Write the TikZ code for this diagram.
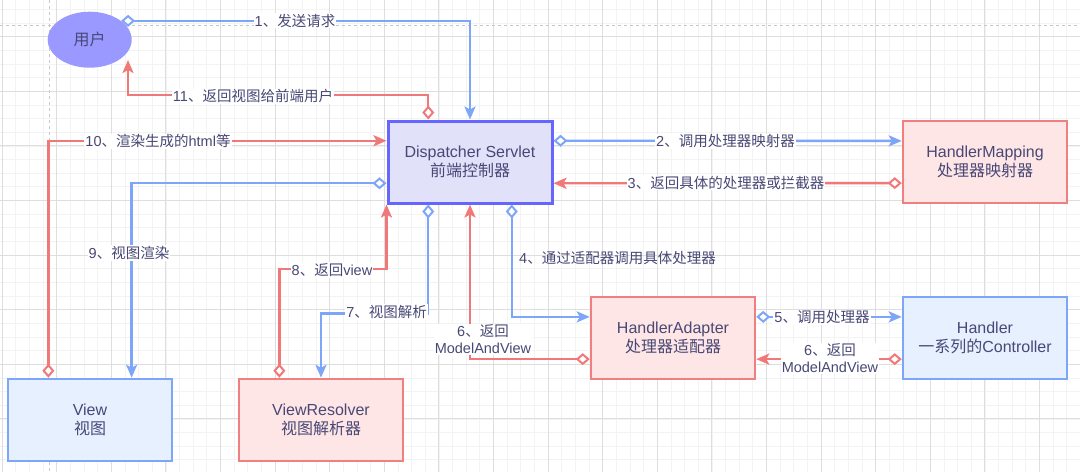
\documentclass[tikz,border=0pt]{standalone}
\usepackage{fontspec}
\setmainfont{Liberation Sans}
\newfontfamily\cjk{Noto Sans CJK SC}
\usetikzlibrary{arrows.meta,shapes.geometric,calc}
\newcommand\zh[1]{{\cjk #1}}
\definecolor{bl}{RGB}{126,166,248}
\definecolor{rd}{RGB}{240,120,120}
\definecolor{txt}{RGB}{72,72,118}
\definecolor{pinkfill}{RGB}{255,230,230}
\definecolor{pinkline}{RGB}{240,128,128}
\definecolor{bluefill}{RGB}{230,240,255}
\definecolor{dsfill}{RGB}{225,225,250}
\definecolor{dsline}{RGB}{102,102,255}
\definecolor{userfill}{RGB}{153,153,255}
\definecolor{gridminor}{RGB}{243,243,243}
\definecolor{gridmajor}{RGB}{222,222,222}
\definecolor{pageline}{RGB}{200,200,200}
\tikzset{
  boxbase/.style={rectangle, minimum width=164pt, minimum height=82pt, inner sep=0pt,
    align=center, text=txt, font=\fontsize{16}{19.5}\selectfont},
  dsbox/.style={boxbase, draw=dsline, fill=dsfill, line width=3pt},
  pinkbox/.style={boxbase, draw=pinkline, fill=pinkfill, line width=2.5pt},
  bluebox/.style={boxbase, draw=bl, fill=bluefill, line width=2.5pt},
  userell/.style={ellipse, fill=userfill, minimum width=84pt, minimum height=56pt,
    inner sep=0pt, text=txt, font=\fontsize{16}{19}\selectfont},
  edgebase/.style={line width=2.4pt,
    arrows={Diamond[open,fill=white,length=14pt,width=12pt,line width=2pt]-Stealth[length=13pt,width=11pt,inset=3pt]}},
  bedge/.style={edgebase, draw=bl},
  redge/.style={edgebase, draw=rd},
  lbl/.style={fill=white, inner sep=1pt, text=txt, align=center,
    font=\fontsize{14.5}{17}\selectfont},
}
\begin{document}
\begin{tikzpicture}[x=1pt,y=-1pt]
\useasboundingbox (0,0) rectangle (1080,472);
\fill[white] (0,0) rectangle (1080,472);
% grid
\foreach \i in {0,...,79} {
  \pgfmathsetmacro\xx{2.1+13.65*\i}
  \draw[gridminor, line width=0.8pt] (\xx,0) -- (\xx,472);
}
\foreach \i in {0,...,35} {
  \pgfmathsetmacro\yy{9.4+13.65*\i}
  \draw[gridminor, line width=0.8pt] (0,\yy) -- (1080,\yy);
}
\foreach \i in {0,...,19} {
  \pgfmathsetmacro\xx{2.1+54.6*\i}
  \draw[gridmajor, line width=0.9pt] (\xx,0) -- (\xx,472);
}
\foreach \i in {0,...,8} {
  \pgfmathsetmacro\yy{36.7+54.6*\i}
  \draw[gridmajor, line width=0.9pt] (0,\yy) -- (1080,\yy);
}
\draw[pageline, line width=1pt, dash pattern=on 3pt off 3pt] (0,25.3) -- (1080,25.3);
\draw[pageline, line width=1pt, dash pattern=on 3pt off 3pt] (49,0) -- (49,472);

% nodes
\node[userell] (user) at (89.7,39.7) {\zh{用户}};
\node[dsbox] (ds) at (470,162) {Dispatcher Servlet\\\zh{前端控制器}};
\node[pinkbox] (hm) at (985,162) {HandlerMapping\\\zh{处理器映射器}};
\node[pinkbox] (ha) at (673,338) {HandlerAdapter\\\zh{处理器适配器}};
\node[bluebox] (h) at (985,338) {Handler\\\zh{一系列的}Controller};
\node[bluebox] (v) at (90,420) {View\\\zh{视图}};
\node[pinkbox] (vr) at (321,420) {ViewResolver\\\zh{视图解析器}};

% anchor points at quarter fractions
\coordinate (dsT1) at ($(ds.north west)!0.25!(ds.north east)$);
\coordinate (dsB1) at ($(ds.south west)!0.25!(ds.south east)$);
\coordinate (dsB3) at ($(ds.south west)!0.75!(ds.south east)$);
\coordinate (dsL1) at ($(ds.north west)!0.25!(ds.south west)$);
\coordinate (dsL3) at ($(ds.north west)!0.75!(ds.south west)$);
\coordinate (dsR1) at ($(ds.north east)!0.25!(ds.south east)$);
\coordinate (dsR3) at ($(ds.north east)!0.75!(ds.south east)$);
\coordinate (hmL1) at ($(hm.north west)!0.25!(hm.south west)$);
\coordinate (hmL3) at ($(hm.north west)!0.75!(hm.south west)$);
\coordinate (haL1) at ($(ha.north west)!0.25!(ha.south west)$);
\coordinate (haL3) at ($(ha.north west)!0.75!(ha.south west)$);
\coordinate (haR1) at ($(ha.north east)!0.25!(ha.south east)$);
\coordinate (haR3) at ($(ha.north east)!0.75!(ha.south east)$);
\coordinate (hL1) at ($(h.north west)!0.25!(h.south west)$);
\coordinate (hL3) at ($(h.north west)!0.75!(h.south west)$);
\coordinate (vT1) at ($(v.north west)!0.25!(v.north east)$);
\coordinate (vT3) at ($(v.north west)!0.75!(v.north east)$);
\coordinate (vrT1) at ($(vr.north west)!0.25!(vr.north east)$);
\coordinate (u11) at (128,60);

% connectors
\draw[bedge] (user.31.5) -| (ds.north);
\draw[redge] (dsT1) -- ++(0,-24.6) -| (u11);
\draw[bedge] (dsR1) -- (hmL1);
\draw[redge] (hmL3) -- (dsR3);
\draw[bedge] (dsB3) |- (haL1);
\draw[bedge] (haR1) -- (hL1);
\draw[redge] (hL3) -- (haR3);
\draw[redge] (haL3) -| (ds.south);
\draw[bedge] (dsB1) -- ++(0,109) -| (vr.north);
\draw[redge] (vrT1) -- ++(0,-109) -| (ds.south west);
\draw[bedge] (dsL3) -| (vT3);
\draw[redge] (vT1) |- (dsL1);

% labels
\node[lbl] (l1) at (295,20.7) {1\zh{、发送请求}};
\node[lbl] (l11) at (253,96.4) {11\zh{、返回视图给前端用户}};
\node[lbl] (l2) at (725.5,141.5) {2\zh{、调用处理器映射器}};
\node[lbl] (l3) at (726,182.5) {3\zh{、返回具体的处理器或拦截器}};
\node[lbl, fill=none, anchor=west] (l4) at (518,258) {4\zh{、通过适配器调用具体处理器}};
\node[lbl] (l5) at (822,317.5) {5\zh{、调用处理器}};
\node[lbl] (l6r) at (830,358.5) {6\zh{、返回}\\ModelAndView};
\node[lbl] (l6l) at (483,339.5) {6\zh{、返回}\\ModelAndView};
\node[lbl] (l7) at (386.6,312) {7\zh{、视图解析}};
\node[lbl] (l8) at (332,270) {8\zh{、返回}view};
\node[lbl] (l9) at (129,253) {9\zh{、视图渲染}};
\node[lbl] (l10) at (158,141.5) {10\zh{、渲染生成的}html\zh{等}};
\end{tikzpicture}
\end{document}
